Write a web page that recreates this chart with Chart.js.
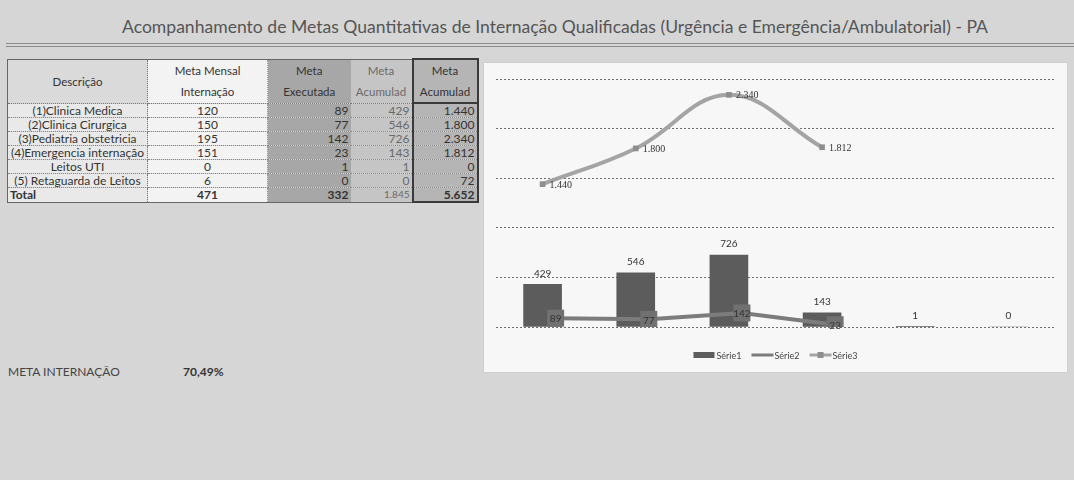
<!DOCTYPE html>
<html lang="pt-BR">
<head>
<meta charset="utf-8">
<title>Acompanhamento de Metas - PA</title>
<script src="https://cdn.jsdelivr.net/npm/chart.js@4.4.0/dist/chart.umd.min.js"></script>
<style>
  body { margin: 0; width: 1074px; height: 480px; background: #d6d6d6; position: relative; overflow: hidden; font-family: Lato, "Noto Sans", sans-serif; color: #333; }
  #titulo { position: absolute; top: 16px; left: 555px; white-space: nowrap; font-size: 17px; color: #555; transform-origin: 0 0; }
  .regua { position: absolute; left: 6px; right: 0; height: 0; border-top: 1px solid #8c8c8c; }
  #tabela { position: absolute; left: 7px; top: 58px; border-collapse: collapse; table-layout: fixed; font-size: 12px; }
  #tabela th { font-weight: normal; font-size: 11.5px; line-height: 21px; padding: 0 2px; height: 39px; color: #333; border-bottom: 1px dotted #777; }
  #tabela td { height: 13px; line-height: 13px; padding: 0 2px; border-bottom: 1px dotted #888; white-space: nowrap; overflow: hidden; }
  #tabela tr > *:nth-child(1) { background: #e9e9e9; text-align: center; border-left: 1px solid #666; border-right: 1px dotted #777; }
  #tabela th:nth-child(1) { background: #dadada; }
  #tabela tr > *:nth-child(2) { background: #f3f3f3; text-align: center; border-right: 1px dotted #999; }
  #tabela tr > *:nth-child(3) { background: #a7a7a7; text-align: right; }
  #tabela tr > *:nth-child(4) { background: #c5c5c5; text-align: right; color: #6a6a6a; }
  #tabela tr > *:nth-child(5) { background: #b5b5b5; text-align: right; border-left: 2px solid #3a3a3a; border-right: 2px solid #3a3a3a; }
  #tabela th { text-align: center !important; }
  #tabela thead tr { border-top: 1px solid #666; }
  #tabela th:nth-child(5) { border-top: 2px solid #3a3a3a; border-bottom: 2px solid #3a3a3a; }
  #tabela tr.total td { font-weight: bold; border-bottom: 1px solid #666; }
  #tabela tr.total td:nth-child(1) { text-align: left; }
  #tabela tr.total td:nth-child(4) { font-weight: normal; font-size: 10px; }
  #tabela tr.total td:nth-child(5) { border-bottom: 2px solid #3a3a3a; }
  #caixa { position: absolute; left: 483px; top: 62px; width: 585px; height: 311px; background: #f7f7f7; border: 1px solid #cfcfcf; box-sizing: border-box; }
  #meta { position: absolute; left: 8px; top: 364px; font-size: 12px; color: #444; }
  #percentual { position: absolute; left: 183px; top: 364px; font-size: 12px; font-weight: bold; color: #333; }
</style>
</head>
<body>
<div id="titulo">Acompanhamento de Metas Quantitativas de Internação Qualificadas (Urgência e Emergência/Ambulatorial) - PA</div>
<div class="regua" style="top:43px"></div>
<div class="regua" style="top:46px"></div>

<table id="tabela">
  <colgroup><col style="width:140px"><col style="width:120px"><col style="width:83px"><col style="width:62px"><col style="width:65px"></colgroup>
  <thead><tr><th>Descrição</th><th>Meta Mensal<br>Internação</th><th>Meta<br>Executada</th><th>Meta<br>Acumulad</th><th>Meta<br>Acumulad</th></tr></thead>
  <tbody id="corpo"></tbody>
</table>

<div id="caixa"><canvas id="grafica" width="583" height="309"></canvas></div>

<div id="meta">META INTERNAÇÃO</div>
<div id="percentual">70,49%</div>

<script>
// Dados da tabela
const descricoes = ['(1)Clinica Medica', '(2)Clinica Cirurgica', '(3)Pediatria obstetricia', '(4)Emergencia internação', 'Leitos UTI', '(5) Retaguarda de Leitos'];
const metaMensal = [120, 150, 195, 151, 0, 6];
const metaExecutada = [89, 77, 142, 23, 1, 0];
const metaAcumulada = [429, 546, 726, 143, 1, 0];
const metaAcumuladaTotal = [1440, 1800, 2340, 1812, 0, 72];
const totais = [471, 332, 1845, 5652];

// Dados do gráfico (séries do Excel)
const serie1 = [429, 546, 726, 143, 1, 0];
const serie2 = [89, 77, 142, 23];
const serie3 = [1440, 1800, 2340, 1812];

// formato 1.440
function fmt(v) {
  return String(v).replace(/\B(?=(\d{3})+(?!\d))/g, '.');
}

// Monta as linhas da tabela
const corpo = document.getElementById('corpo');
descricoes.forEach(function (d, i) {
  const tr = document.createElement('tr');
  [d, metaMensal[i], metaExecutada[i], metaAcumulada[i], fmt(metaAcumuladaTotal[i])].forEach(function (v) {
    const td = document.createElement('td');
    td.textContent = v;
    tr.appendChild(td);
  });
  corpo.appendChild(tr);
});
const trTotal = document.createElement('tr');
trTotal.className = 'total';
['Total'].concat(totais.map(fmt)).forEach(function (v) {
  const td = document.createElement('td');
  td.textContent = v;
  trTotal.appendChild(td);
});
corpo.appendChild(trTotal);

// Ajusta a largura do título (fonte tipo Calibri, mais estreita)
const titulo = document.getElementById('titulo');
const larg = titulo.getBoundingClientRect().width;
titulo.style.transform = 'translateX(-433px) scaleX(' + (866 / larg) + ')';

// Deslocamento da Série2 dentro da categoria (como no Excel)
const deslocamento = 0.14;
const pontos = function (arr, d) { return arr.map(function (v, i) { return { x: i + d, y: v }; }); };

// Rótulos de dados e legenda desenhados à mão (sem plugin externo)
const rotulos = {
  id: 'rotulos',
  afterDatasetsDraw(chart) {
    const ctx = chart.ctx;
    ctx.save();
    chart.data.datasets.forEach(function (ds, i) {
      const meta = chart.getDatasetMeta(i);
      meta.data.forEach(function (el, j) {
        const v = ds.data[j].y;
        ctx.fillStyle = '#333';
        ctx.textBaseline = 'middle';
        if (i === 0) {
          ctx.font = '10px Lato';
          ctx.textAlign = 'center';
          ctx.fillText(fmt(v), el.x, el.y - 11);
        } else if (i === 1) {
          ctx.font = '10px Lato';
          ctx.textAlign = 'center';
          ctx.fillText(fmt(v), el.x, el.y + 1);
        } else {
          ctx.font = '10px "Liberation Serif"';
          ctx.textAlign = 'left';
          ctx.fillText(fmt(v), el.x + 7, el.y + 1);
        }
      });
    });

    // legenda
    const y = chart.chartArea.bottom + 28;
    ctx.font = '9px Lato';
    ctx.textAlign = 'left';
    const itens = chart.data.datasets.map(function (ds) { return { ds: ds, w: 23 + ctx.measureText(ds.label).width }; });
    const total = itens.reduce(function (s, it) { return s + it.w; }, 0) + 10 * (itens.length - 1);
    let x = (chart.chartArea.left + chart.chartArea.right) / 2 - total / 2;
    itens.forEach(function (it, i) {
      if (i === 0) {
        ctx.fillStyle = it.ds.backgroundColor;
        ctx.fillRect(x, y - 3, 21, 6);
      } else {
        ctx.strokeStyle = it.ds.borderColor;
        ctx.lineWidth = 3;
        ctx.beginPath();
        ctx.moveTo(x, y);
        ctx.lineTo(x + 22, y);
        ctx.stroke();
        if (i === 2) {
          ctx.fillStyle = it.ds.pointBackgroundColor;
          ctx.fillRect(x + 8, y - 3, 6, 6);
        }
      }
      ctx.fillStyle = '#444';
      ctx.fillText(it.ds.label, x + 23, y + 1);
      x += it.w + 10;
    });
    ctx.restore();
  }
};

const data = {
  datasets: [{
    label: 'Série1',
    data: pontos(serie1, 0),
    backgroundColor: '#5c5c5c',
    barThickness: 38,
    order: 3
  }, {
    label: 'Série2',
    type: 'line',
    data: pontos(serie2, deslocamento),
    borderColor: '#7c7c7c',
    borderWidth: 4,
    pointStyle: 'rect',
    pointRadius: 12,
    pointBackgroundColor: '#717171',
    pointBorderWidth: 0,
    tension: 0,
    order: 2
  }, {
    label: 'Série3',
    type: 'line',
    data: pontos(serie3, 0),
    borderColor: '#a4a4a4',
    borderWidth: 4,
    pointStyle: 'rect',
    pointRadius: 4,
    pointBackgroundColor: '#8e8e8e',
    pointBorderWidth: 0,
    tension: 0.4,
    order: 1
  }]
};

const config = {
  type: 'bar',
  data: data,
  plugins: [rotulos],
  options: {
    responsive: false,
    animation: false,
    layout: { padding: { top: 16, left: 10, right: 8, bottom: 45 } },
    plugins: {
      legend: { display: false },
      tooltip: { enabled: false }
    },
    scales: {
      x: { type: 'linear', min: -0.5, max: 5.5, offset: false, display: false },
      y: {
        min: 0,
        max: 2500,
        ticks: { display: false, stepSize: 500 },
        grid: { color: '#6f6f6f', lineWidth: 1, drawTicks: false },
        border: { display: false, dash: [2, 2] }
      }
    }
  }
};

const grafica = new Chart(document.getElementById('grafica'), config);
</script>
</body>
</html>
